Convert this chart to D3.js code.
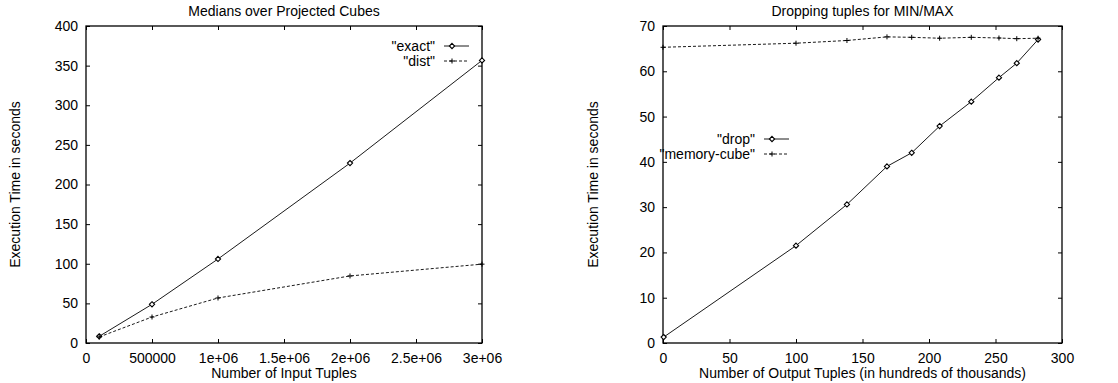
<!DOCTYPE html>
<html>
<head>
<meta charset="utf-8">
<script src="https://cdn.jsdelivr.net/npm/d3@7"></script>
<style>
  body { margin: 0; background: #fff; }
  svg { display: block; font-family: "Liberation Sans", Arial, sans-serif; }
  .domain { display: none; }
</style>
</head>
<body>
<svg width="1118" height="383"></svg>
<script>
// left chart: medians
var inputTuples = [100000, 500000, 1000000, 2000000, 3000000];
var exactTimes = [8.4, 48.8, 106, 227, 356.6];
var distTimes = [7.6, 32.8, 56.8, 84.6, 99.5];
var leftXTicks = [0, 500000, 1000000, 1500000, 2000000, 2500000, 3000000];
var leftXLabels = ["0", "500000", "1e+06", "1.5e+06", "2e+06", "2.5e+06", "3e+06"];
var leftYTicks = [0, 50, 100, 150, 200, 250, 300, 350, 400];

// right chart: min/max
var outputTuples = [0.5, 100, 138.3, 168.4, 187, 208, 231.8, 252.6, 266, 282];
var dropTimes = [1.3, 21.5, 30.6, 39, 42, 47.9, 53.3, 58.6, 61.8, 67];
var memTuples = [0, 100, 138.3, 168.4, 187, 208, 231.8, 252.6, 266, 282];
var memTimes = [65.3, 66.2, 66.8, 67.6, 67.5, 67.3, 67.5, 67.35, 67.2, 67.3];
var rightXTicks = [0, 50, 100, 150, 200, 250, 300];
var rightYTicks = [0, 10, 20, 30, 40, 50, 60, 70];

const svg = d3.select('svg');
const plotTop = 26, plotBottom = 343;
const fontSize = 14;

function drawPlot(opt) {
    const x = d3.scaleLinear().domain(opt.xDomain).range([opt.left, opt.right]);
    const y = d3.scaleLinear().domain(opt.yDomain).range([plotBottom, plotTop]);
    const g = svg.append('g');

    // ticks on all four sides, pointing inwards
    g.append('g').attr('transform', `translate(0,${plotBottom})`)
        .call(d3.axisBottom(x).tickValues(opt.xTicks).tickSize(-4).tickPadding(10)
            .tickFormat((d, i) => opt.xLabels ? opt.xLabels[i] : d));
    g.append('g').attr('transform', `translate(0,${plotTop})`)
        .call(d3.axisTop(x).tickValues(opt.xTicks).tickSize(-4).tickFormat(''));
    g.append('g').attr('transform', `translate(${opt.left},0)`)
        .call(d3.axisLeft(y).tickValues(opt.yTicks).tickSize(-4).tickPadding(8));
    g.append('g').attr('transform', `translate(${opt.right},0)`)
        .call(d3.axisRight(y).tickValues(opt.yTicks).tickSize(-4).tickFormat(''));
    g.selectAll('.tick line').attr('stroke', '#000');
    g.selectAll('.tick text').attr('font-size', fontSize).attr('fill', '#000')
        .attr('font-family', '"Liberation Sans", Arial, sans-serif');

    // frame
    g.append('rect').attr('x', opt.left).attr('y', plotTop)
        .attr('width', opt.right - opt.left).attr('height', plotBottom - plotTop)
        .attr('fill', 'none').attr('stroke', '#000').attr('stroke-width', 1.3);

    // titles
    g.append('text').attr('x', (opt.left + opt.right) / 2).attr('y', 16)
        .attr('text-anchor', 'middle').attr('font-size', fontSize).text(opt.title);
    g.append('text').attr('x', (opt.left + opt.right) / 2).attr('y', 378)
        .attr('text-anchor', 'middle').attr('font-size', fontSize).text(opt.xTitle);
    g.append('text').attr('transform', `translate(${opt.yTitleX},${(plotTop + plotBottom) / 2}) rotate(-90)`)
        .attr('text-anchor', 'middle').attr('font-size', fontSize).text(opt.yTitle);

    opt.series.forEach(s => {
        const pts = s.xs.map((v, i) => [x(v), y(s.ys[i])]);
        g.append('path').attr('d', d3.line()(pts))
            .attr('fill', 'none').attr('stroke', '#000').attr('stroke-width', 0.9)
            .attr('stroke-dasharray', s.dash ? '3,2' : null);
        pts.forEach(p => drawMarker(g, p[0], p[1], s.marker));

        // legend entry
        const ly = s.legendY;
        g.append('text').attr('x', s.legendX).attr('y', ly + 5)
            .attr('text-anchor', 'end').attr('font-size', fontSize).text(s.name);
        g.append('line').attr('x1', s.legendX + 9).attr('x2', s.legendX + 34)
            .attr('y1', ly).attr('y2', ly)
            .attr('stroke', '#000').attr('stroke-width', 0.9)
            .attr('stroke-dasharray', s.dash ? '3,2' : null);
        drawMarker(g, s.legendX + 17, ly, s.marker);
    });
}

function drawMarker(g, cx, cy, type) {
    if (type === 'diamond') {
        g.append('path')
            .attr('d', `M${cx},${cy - 2.6}L${cx + 2.6},${cy}L${cx},${cy + 2.6}L${cx - 2.6},${cy}Z`)
            .attr('fill', '#fff').attr('stroke', '#000').attr('stroke-width', 1.1);
    } else {
        g.append('path')
            .attr('d', `M${cx - 2.5},${cy}H${cx + 2.5}M${cx},${cy - 2.5}V${cy + 2.5}`)
            .attr('stroke', '#000').attr('stroke-width', 1);
    }
}

drawPlot({
    left: 86, right: 482, yTitleX: 20,
    xDomain: [0, 3000000], yDomain: [0, 400],
    xTicks: leftXTicks, xLabels: leftXLabels, yTicks: leftYTicks,
    title: 'Medians over Projected Cubes',
    xTitle: 'Number of Input Tuples',
    yTitle: 'Execution Time in seconds',
    series: [
        { name: '"exact"', xs: inputTuples, ys: exactTimes, marker: 'diamond', dash: false, legendX: 435, legendY: 46 },
        { name: '"dist"', xs: inputTuples, ys: distTimes, marker: 'plus', dash: true, legendX: 435, legendY: 61 }
    ]
});

drawPlot({
    left: 663, right: 1062, yTitleX: 598,
    xDomain: [0, 300], yDomain: [0, 70],
    xTicks: rightXTicks, yTicks: rightYTicks,
    title: 'Dropping tuples for MIN/MAX',
    xTitle: 'Number of Output Tuples (in hundreds of thousands)',
    yTitle: 'Execution Time in seconds',
    series: [
        { name: '"drop"', xs: outputTuples, ys: dropTimes, marker: 'diamond', dash: false, legendX: 755, legendY: 139 },
        { name: '"memory-cube"', xs: memTuples, ys: memTimes, marker: 'plus', dash: true, legendX: 755, legendY: 154 }
    ]
});
</script>
</body>
</html>
